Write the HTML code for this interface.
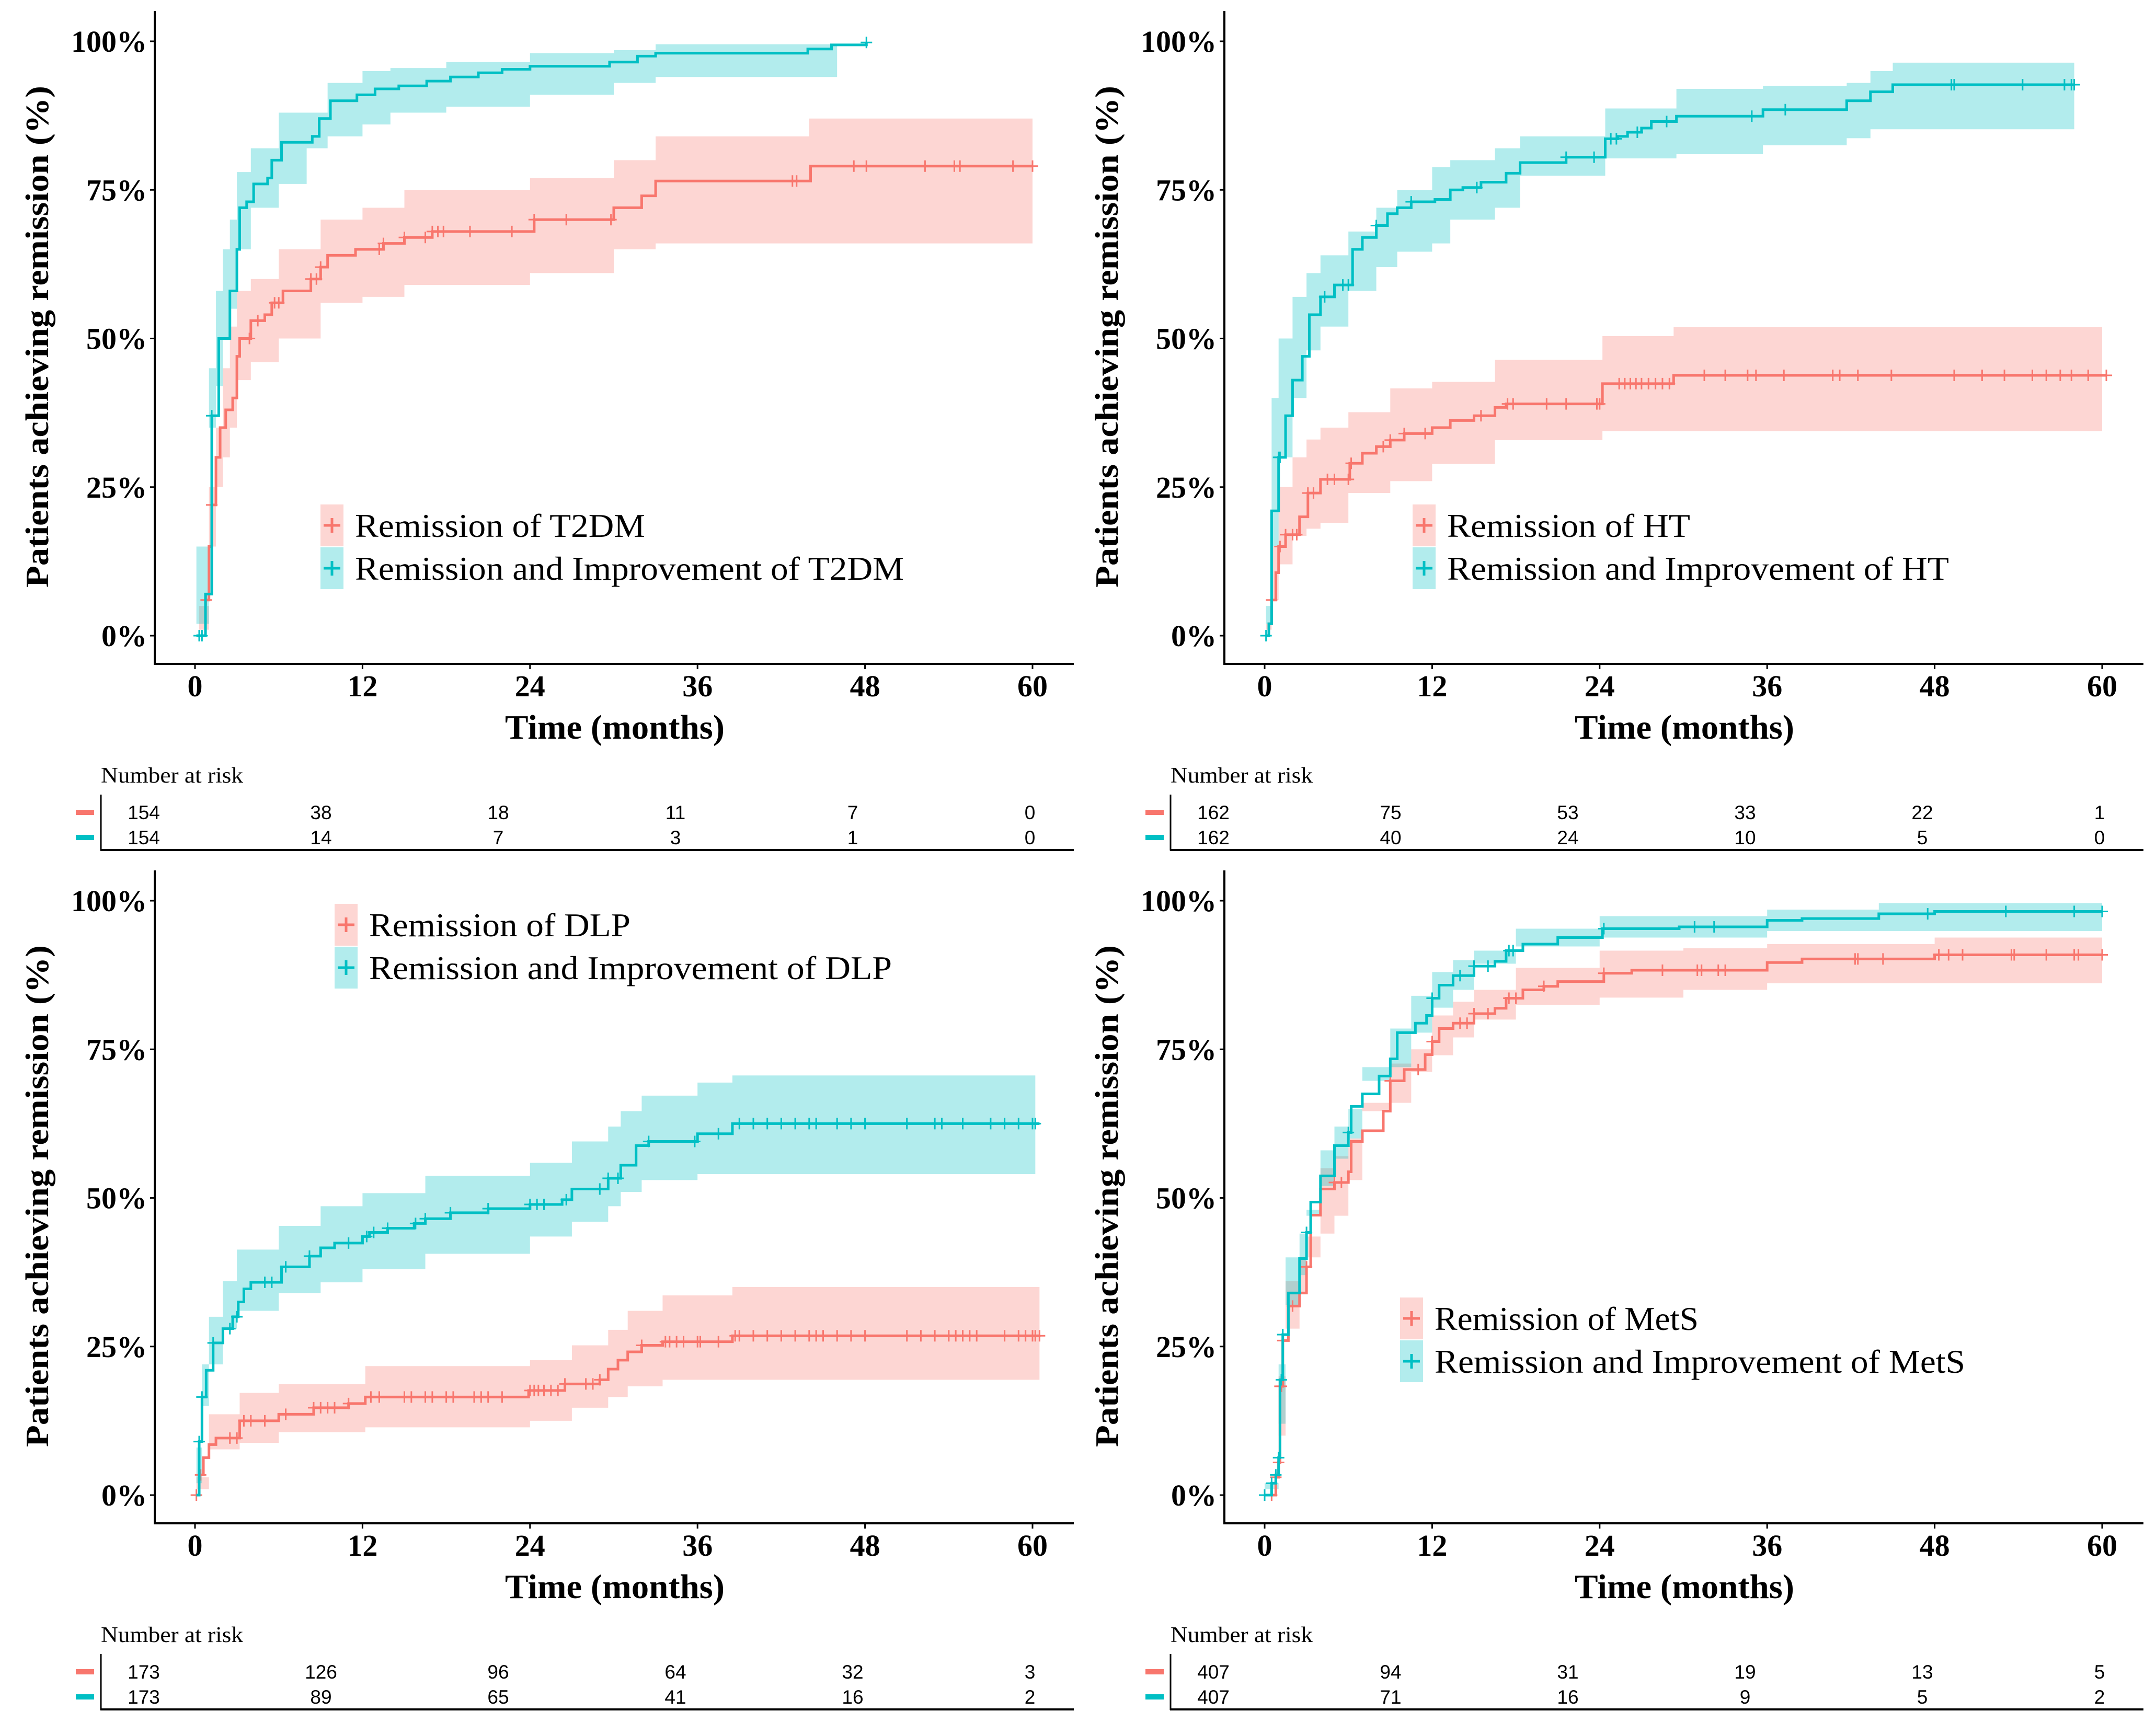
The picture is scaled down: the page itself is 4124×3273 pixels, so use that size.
<!DOCTYPE html>
<html><head><meta charset="utf-8"><title>Kaplan-Meier remission curves</title>
<style>
html,body{margin:0;padding:0;background:#fff;}
svg{display:block;}
.tick{font-family:"Liberation Serif",serif;font-weight:bold;font-size:58px;fill:#000;}
.ttl{font-family:"Liberation Serif",serif;font-weight:bold;font-size:66px;fill:#000;}
.leg{font-family:"Liberation Serif",serif;font-size:64px;fill:#000;}
.nar{font-family:"Liberation Serif",serif;font-size:42px;fill:#000;}
.risk{font-family:"Liberation Sans",sans-serif;font-size:37px;fill:#000;}
</style></head>
<body>
<svg id="chart" width="4124" height="3273" viewBox="0 0 4124 3273" xmlns="http://www.w3.org/2000/svg"></svg>
<script>
// ---------- data ----------
const xTicks = [0, 12, 24, 36, 48, 60];
const yTicks = [0, 25, 50, 75, 100];
const yTickLabels = ["0%", "25%", "50%", "75%", "100%"];

// T2DM
const t2dmRedT = [0.3,0.75,1.0,1.2,1.5,1.8,2.2,2.7,3,3.2,4,5,5.5,6.3,8.3,9,9.5,11.5,13.5,15,17,24.3,30,32,33,44.1,60];
const t2dmRedS = [0,6,15,22,30,35,38,40,47,50,53,54,56,58,60,62,64,65,66,67,68,70,72,74,76.5,79,79];
const t2dmRedCiT = [0.3,1,1.5,2,2.5,3,4,6,9,12,15,24,30,33,44,60];
const t2dmRedLo = [0,5,15,25,30,35,43,46,50,56,57,59,61,65,66,66];
const t2dmRedHi = [1,25,35,45,52,58,60,65,70,72,75,77,80,84,87,87];
const t2dmRedCens = [0.8,1.2,3.9,4.5,5.7,6,8.3,8.7,9,13.2,13.5,15,16.5,17,17.4,17.8,19.7,22.7,24.3,26.6,29.8,42.8,43.1,47.2,48.1,52.3,54.4,54.8,58.6,60];
const t2dmTealT = [0.1,0.75,1.2,1.7,2.5,3,3.2,3.7,4.2,5.2,5.5,6.2,8.4,8.9,9.7,11.6,12.9,14.6,16.6,18.3,20.3,22,24,29.7,31.7,33,43.9,45.6,48.1];
const t2dmTealS = [0,7,37,50,58,65,72,73,76,77,80,83,84,87,90,91,92,92.5,93.3,94,94.7,95.3,95.8,96.5,97.5,98,98.7,99.4,99.8];
const t2dmTealCiT = [0.1,1,1.5,2,2.5,3,4,6,8,9.5,12,14,18,24,30,33,44,46];
const t2dmTealLo = [0,15,35,42,50,55,65,72,76,82,84,86,88,89,91,93,94,94];
const t2dmTealHi = [2,45,58,65,70,78,82,88,88,93,95,95.5,96.5,98,98.5,99.5,99.5,99.5];
const t2dmTealCens = [0.3,0.5,1.2,48.1];
const t2dmRiskRed = [154,38,18,11,7,0];
const t2dmRiskTeal = [154,14,7,3,1,0];

// HT
const htRedT = [0.1,0.3,0.5,0.8,1,1.5,2.5,3.1,4,6.1,7,8,9,10,12,13.3,15,16.5,17.3,24.2,29.3,60.3];
const htRedS = [0,2,6,10.6,15,17,20,24,26.3,29,30.7,31.8,32.9,34,35,36.2,37,38.4,39,42.4,43.8,43.8];
const htRedCiT = [0.1,0.5,1,2,3,4,6,9,12,16.5,24.2,29.3,60];
const htRedLo = [0,2,6,12,16.8,18,19,24,26,28.9,32.9,34.4,34.4];
const htRedHi = [1,15,25,30,33,35,37.6,41.6,42.7,46.4,50.4,51.9,51.9];
const htRedCens = [0.5,1.1,1.5,2,2.3,3.1,3.5,4.5,5,6,6.2,8.5,9,10,11.5,15.5,17.4,17.8,20.2,21.6,23.8,24,25.4,25.8,26.2,26.6,27,27.5,28,28.5,29,31.5,33,34.6,35.2,37.2,40.7,41.2,42.5,44.9,49.4,51.4,53,55,56,57,57.8,59,60.3];
const htTealT = [0.1,0.3,0.5,1,1.5,2,2.7,3.2,4,5,6.3,7,8,8.8,9.5,10.5,12.2,13.3,14.2,15.5,17.3,18.3,21.6,24.4,25.3,26,27,27.7,29.5,35.7,41.7,43.4,45,58];
const htTealS = [0,2,21,30,37,43,47,54,57,59,65,67,69,71,72,73,73.4,75,75.4,76.3,77.8,79.6,80.5,83.6,84,84.7,85.4,86.5,87.4,88.5,90,91.5,92.7,92.7];
const htTealCiT = [0.1,0.5,1,2,3,4,6,8,9.5,12,13.3,16.5,18.3,24.4,29.5,35.7,41.7,43.4,45,58];
const htTealLo = [0,5,15,30,40,48,52,58,62,64.6,66,70,72,77.4,80.3,81,82.5,83.7,85.2,85.2];
const htTealHi = [2,40,50,57,61,64,68,72,75,78.8,80,82,84,88.7,92,92.5,93,95,96.4,96.4];
const htTealCens = [0.1,1,1.1,4.3,5.6,6,8,10.5,15.2,21.6,23.6,24.8,25.2,26.7,28.8,34.9,37.3,49.2,49.4,54.3,57.3,57.8,58];
const htRiskRed = [162,75,53,33,22,1];
const htRiskTeal = [162,40,24,10,5,0];

// DLP
const dlpRedT = [0.1,0.3,0.6,1,1.5,3.2,6,8.5,11,12.2,23.9,26.5,29,29.6,30.3,31,32,33.5,38.5,60.5];
const dlpRedS = [0,3.4,6.3,8.5,9.6,12.5,13.6,14.7,15.4,16.5,17.6,18.7,19.4,21.2,22.7,24.1,25.2,25.8,26.8,26.8];
const dlpRedCiT = [0.1,1,3.2,6,12.2,24,27,29.6,31,33.5,38.5,60.5];
const dlpRedLo = [0,3,7.7,8.8,10.6,11.4,12.5,14.7,16.5,18.3,19.4,19.4];
const dlpRedHi = [1,13.6,17.2,18.7,21.7,22.7,25.2,27.8,31,33.6,35,35];
const dlpRedCens = [0.1,0.4,2.5,3,3.5,4,5,6.5,8.5,9,9.5,10,11,12.6,13.2,15,15.5,16.5,17,18,18.5,20,20.5,21,22,24,24.3,24.6,25,25.5,26,26.5,28,28.5,29,32,33.7,34,34.5,35,36,36.2,37.5,38.7,39,40,41,42,43,44,44.5,45,46,47,48,51,52,53,54,54.5,55,55.5,56,58,59,59.5,60,60.2,60.5];
const dlpTealT = [0.1,0.3,0.5,0.8,1.3,2,2.7,3.1,3.5,4,6.2,8.2,9,10,12,12.5,13.8,15.7,16.5,18.3,21,24,26.3,27,29.6,30.5,31.6,32.5,36,38.5,60.5];
const dlpTealS = [0,9,16.5,21,25.6,28,30,32.5,34.7,35.8,38.4,40.2,41.6,42.4,43.5,44.2,44.9,45.7,46.5,47.5,48.2,48.9,49.7,51.5,53.3,55.5,58.8,59.5,60.8,62.5,62.5];
const dlpTealCiT = [0.1,0.5,1,2,3,6,9,12,16.5,24,27,29.6,30.5,32,36,38.5,60.2];
const dlpTealLo = [0,8,15,22,28,31,34,35.8,38,40.6,43.5,46,48.6,51,53,54,54];
const dlpTealHi = [2,22,30,36,41.3,45.3,48.6,50.8,53.7,55.9,59.5,62,64.6,67.2,69.4,70.6,70.6];
const dlpTealCens = [0.3,0.5,1.3,2.5,3,5,5.5,6.5,8.2,11,12.3,12.8,13.8,15.8,16.5,18.3,21,24,24.5,25,26.6,29,29.6,30.3,32.5,35.8,37.5,39,40,41,42,43,44,44.5,46,47,48,51,53,53.5,55,57,58,59,60,60.2];
const dlpRiskRed = [173,126,96,64,32,3];
const dlpRiskTeal = [173,89,65,41,16,2];

// MetS
const metsRedT = [0,0.8,1,1.1,1.3,1.7,2.5,3,3.3,4,5,6,6.2,7,8.5,9,10,11.5,12,12.5,13.5,15,16.5,17.3,18.5,20,21,24.3,26.3,36,38.5,48,60];
const metsRedS = [0,3,5.5,18.3,26,31.8,34,38.4,47.1,51.5,52.6,54.4,59.5,61.3,64.6,69.7,71.6,74.1,76.3,78.5,79.4,81,81.9,83.6,85,85.6,86.4,87.8,88.3,89.6,90.2,90.9,90.9];
const metsRedCiT = [0,1,1.5,2.5,3,4,5,6,7,9,10.5,12,13.5,15,18,24,30,36,48,60];
const metsRedLo = [0,1,20,28,34,40,44,47,53,64.6,66,71.2,74,77,80,82.5,83.7,85,86.1,86.1];
const metsRedHi = [1,10,36,40,43.5,55,57,60,66,72.6,75,80.7,83,85,88.7,91.6,92,92.7,93.8,93.8];
const metsRedCens = [0.5,0.8,1,1.1,1.2,1.3,2,3,5,5.5,9,11,12,14,14.5,15,16,17.5,18,20,24.3,28.5,31,31.3,32.5,33,42.3,42.5,44.3,48.3,49,50,53.5,53.7,56,58,58.3,60];
const metsTealT = [0,0.5,0.8,1,1.1,1.3,1.7,2.5,3,3.3,4,5,6,6.2,7,8.2,9,9.5,10.8,11.6,12,12.5,13.5,15,16.5,17.3,18.5,21,24.2,29.7,36,38.5,44,48,60];
const metsTealS = [0,2,3.4,6.3,19.4,27,34,39.8,44.2,49.3,53.7,58.8,61,65.4,67.5,70.5,73.4,77.8,79.4,80.7,83.6,85.8,87.4,89,89.8,91.6,92.7,93.8,95.3,95.6,96.7,97,97.8,98.2,98.2];
const metsTealCiT = [0,1,1.5,2.5,3,4,5,6,7,9,10.5,12,13.5,15,18,24,36,44,60];
const metsTealLo = [0,2,22,32,37,48,52,56.6,60,69.7,72,77.8,82,85,89.4,92.3,93.8,94.9,94.9];
const metsTealHi = [1,12,40,44,47,58,62,65,72,78.5,84,88,90,91.6,95.3,97.4,98.5,99.6,99.6];
const metsTealCens = [0,0.5,0.8,1,1.2,1.3,3,6,12,14,15,16,17.5,17.8,24.3,30.8,32.2,47.5,53.1,58,60];
const metsRiskRed = [407,94,31,19,13,5];
const metsRiskTeal = [407,71,16,9,5,2];

// ---------- drawing ----------
const NS = "http://www.w3.org/2000/svg";
const svg = document.getElementById("chart");
const RED = "#F8766D", TEAL = "#00BFC4";

function mk(tag, attrs, parent) {
  const e = document.createElementNS(NS, tag);
  for (const k in attrs) e.setAttribute(k, attrs[k]);
  (parent || svg).appendChild(e);
  return e;
}

function stepPath(T, S, xf, yf) {
  let d = "M" + xf(T[0]) + "," + yf(S[0]);
  for (let i = 1; i < T.length; i++) {
    d += "H" + xf(T[i]) + "V" + yf(S[i]);
  }
  return d;
}
function bandPath(T, lo, hi, xf, yf) {
  let d = "M" + xf(T[0]) + "," + yf(hi[0]);
  for (let i = 1; i < T.length; i++) d += "H" + xf(T[i]) + "V" + yf(hi[i]);
  d += "V" + yf(lo[T.length - 1]);
  for (let i = T.length - 1; i >= 1; i--) d += "V" + yf(lo[i]) + "H" + xf(T[i - 1]);
  d += "V" + yf(lo[0]) + "Z";
  return d;
}
function valueAt(T, S, t) {
  let v = S[0];
  for (let i = 0; i < T.length; i++) { if (T[i] <= t) v = S[i]; }
  return v;
}

function panel(cfg) {
  const dx = cfg.dx, dy = cfg.dy;
  const xf = t => 373 + dx + t * 26.7;
  const yf = v => 1216 + dy - v * 11.37;
  const g = mk("g", {});
  
  

  const series = [
    {name: "red", col: RED, T: cfg.redT, S: cfg.redS, ciT: cfg.redCiT, lo: cfg.redLo, hi: cfg.redHi, cens: cfg.redCens},
    {name: "teal", col: TEAL, T: cfg.tealT, S: cfg.tealS, ciT: cfg.tealCiT, lo: cfg.tealLo, hi: cfg.tealHi, cens: cfg.tealCens}
  ];
  series.forEach(s => {
    const b = mk("path", {d: bandPath(s.ciT, s.lo, s.hi, xf, yf), fill: s.col, "fill-opacity": "0.3", stroke: "none"}, g);
    
    
  });
  series.forEach(s => {
    const l = mk("path", {d: stepPath(s.T, s.S, xf, yf), fill: "none", stroke: s.col, "stroke-width": "5"}, g);
    
    
    s.cens.forEach(t => {
      const cx = xf(t), cy = yf(valueAt(s.T, s.S, t));
      const c = mk("path", {d: `M${cx},${cy-11}V${cy+11}M${cx-11},${cy}H${cx+11}`, stroke: s.col, "stroke-width": "3", fill: "none"}, g);
      
      
    });
  });

  const ya = mk("line", {x1: 296 + dx, y1: 21 + dy, x2: 296 + dx, y2: 1272 + dy, stroke: "#000", "stroke-width": "4"}, g);
  
  
  const xa = mk("line", {x1: 294 + dx, y1: 1270 + dy, x2: 2054 + dx, y2: 1270 + dy, stroke: "#000", "stroke-width": "4"}, g);
  
  

  yTicks.forEach((v, i) => {
    mk("line", {x1: 287 + dx, x2: 296 + dx, y1: yf(v), y2: yf(v), stroke: "#000", "stroke-width": "3"}, g);
    const t = mk("text", {x: 281 + dx, y: yf(v) + 20, "text-anchor": "end", class: "tick"}, g);
    t.textContent = yTickLabels[i];
    
    
  });
  xTicks.forEach(v => {
    mk("line", {x1: xf(v), x2: xf(v), y1: 1270 + dy, y2: 1280 + dy, stroke: "#000", "stroke-width": "3"}, g);
    const t = mk("text", {x: xf(v), y: 1332 + dy, "text-anchor": "middle", class: "tick"}, g);
    t.textContent = String(v);
    
    
  });

  const xt = mk("text", {x: 1176 + dx, y: 1413 + dy, "text-anchor": "middle", class: "ttl", textLength: "420", lengthAdjust: "spacingAndGlyphs"}, g);
  xt.textContent = "Time (months)";
  
  
  const yt = mk("text", {x: 0, y: 0, "text-anchor": "middle", class: "ttl", textLength: "960", lengthAdjust: "spacingAndGlyphs",
    transform: `translate(${92 + dx},${644 + dy}) rotate(-90)`, style: "font-size:62px"}, g);
  yt.textContent = "Patients achieving remission (%)";
  
  

  const lg = mk("g", {}, g);
  
  
  [[RED, cfg.leg1, cfg.ly1, cfg.lw1], [TEAL, cfg.leg2, cfg.ly2, cfg.lw2]].forEach(([col, txt, ly, lw]) => {
    const e = mk("g", {}, lg);
    
    
    mk("rect", {x: cfg.lx + dx, y: ly - 40 + dy, width: 44, height: 80, fill: col, "fill-opacity": "0.3"}, e);
    mk("path", {d: `M${cfg.lx + dx + 6},${ly + dy}H${cfg.lx + dx + 38}M${cfg.lx + dx + 22},${ly + dy - 14}V${ly + dy + 14}`, stroke: col, "stroke-width": "5"}, e);
    const t = mk("text", {x: cfg.lx + 66 + dx, y: ly + 22 + dy, class: "leg", textLength: lw, lengthAdjust: "spacingAndGlyphs"}, e);
    t.textContent = txt;
  });

  const rg = mk("g", {}, g);
  
  
  const nt = mk("text", {x: 193 + dx, y: 1497 + dy, class: "nar", textLength: "272", lengthAdjust: "spacingAndGlyphs"}, rg);
  nt.textContent = "Number at risk";
  mk("line", {x1: 193 + dx, x2: 193 + dx, y1: 1520 + dy, y2: 1627 + dy, stroke: "#000", "stroke-width": "3"}, rg);
  mk("line", {x1: 192 + dx, x2: 2054 + dx, y1: 1626 + dy, y2: 1626 + dy, stroke: "#000", "stroke-width": "4"}, rg);
  [[RED, cfg.riskRed, 1554], [TEAL, cfg.riskTeal, 1602]].forEach(([col, arr, ry]) => {
    mk("rect", {x: 145 + dx, y: ry - 5 + dy, width: 35, height: 10, fill: col}, rg);
    arr.forEach((n, i) => {
      const t = mk("text", {x: 275 + dx + i * 339, y: ry + 13 + dy, "text-anchor": "middle", class: "risk"}, rg);
      t.textContent = String(n);
      
      
    });
  });
}

panel({key: "t2dm", dx: 0, dy: 0,
  redT: t2dmRedT, redS: t2dmRedS, redCiT: t2dmRedCiT, redLo: t2dmRedLo, redHi: t2dmRedHi, redCens: t2dmRedCens,
  tealT: t2dmTealT, tealS: t2dmTealS, tealCiT: t2dmTealCiT, tealLo: t2dmTealLo, tealHi: t2dmTealHi, tealCens: t2dmTealCens,
  leg1: "Remission of T2DM", leg2: "Remission and Improvement of T2DM", lx: 613, ly1: 1005, ly2: 1087, lw1: "555", lw2: "1050",
  riskRed: t2dmRiskRed, riskTeal: t2dmRiskTeal});
panel({key: "ht", dx: 2046, dy: 0,
  redT: htRedT, redS: htRedS, redCiT: htRedCiT, redLo: htRedLo, redHi: htRedHi, redCens: htRedCens,
  tealT: htTealT, tealS: htTealS, tealCiT: htTealCiT, tealLo: htTealLo, tealHi: htTealHi, tealCens: htTealCens,
  leg1: "Remission of HT", leg2: "Remission and Improvement of HT", lx: 656, ly1: 1005, ly2: 1087, lw1: "465", lw2: "960",
  riskRed: htRiskRed, riskTeal: htRiskTeal});
panel({key: "dlp", dx: 0, dy: 1644,
  redT: dlpRedT, redS: dlpRedS, redCiT: dlpRedCiT, redLo: dlpRedLo, redHi: dlpRedHi, redCens: dlpRedCens,
  tealT: dlpTealT, tealS: dlpTealS, tealCiT: dlpTealCiT, tealLo: dlpTealLo, tealHi: dlpTealHi, tealCens: dlpTealCens,
  leg1: "Remission of DLP", leg2: "Remission and Improvement of DLP", lx: 640, ly1: 125, ly2: 207, lw1: "500", lw2: "1000",
  riskRed: dlpRiskRed, riskTeal: dlpRiskTeal});
panel({key: "mets", dx: 2046, dy: 1644,
  redT: metsRedT, redS: metsRedS, redCiT: metsRedCiT, redLo: metsRedLo, redHi: metsRedHi, redCens: metsRedCens,
  tealT: metsTealT, tealS: metsTealS, tealCiT: metsTealCiT, tealLo: metsTealLo, tealHi: metsTealHi, tealCens: metsTealCens,
  leg1: "Remission of MetS", leg2: "Remission and Improvement of MetS", lx: 632, ly1: 878, ly2: 960, lw1: "505", lw2: "1015",
  riskRed: metsRiskRed, riskTeal: metsRiskTeal});
</script>
</body></html>
